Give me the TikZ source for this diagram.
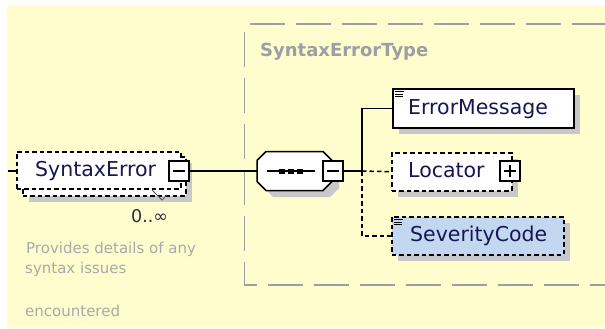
\documentclass[tikz,border=0pt]{standalone}
\usepackage{fontspec}
\setmainfont{DejaVu Sans}
\definecolor{bgyellow}{RGB}{255,252,206}
\definecolor{grpc}{RGB}{158,158,164}
\definecolor{shadowc}{RGB}{200,200,200}
\definecolor{namec}{RGB}{22,22,82}
\definecolor{descc}{RGB}{170,170,168}
\definecolor{sevblue}{RGB}{195,216,240}
\definecolor{occc}{RGB}{45,45,60}
\begin{document}
\begin{tikzpicture}[x=1pt,y=-1pt,
  elem/.style={draw=black, line width=1.5pt, fill=white, rectangle, inner sep=0pt, anchor=north west},
  optl/.style={dash pattern=on 4.5pt off 3pt},
  shadowbox/.style={fill=shadowc, draw=none, rectangle, inner sep=0pt, anchor=north west},
  nametext/.style={font=\fontsize{20.5}{24}\selectfont, text=namec, anchor=base west, inner sep=0pt},
  desctext/.style={font=\fontsize{15}{18}\selectfont, text=descc, anchor=base west, inner sep=0pt},
  grptitle/.style={font=\fontsize{18}{22}\selectfont\bfseries, text=grpc, anchor=base west, inner sep=0pt},
  occtext/.style={font=\fontsize{17.5}{21}\selectfont, text=occc, anchor=base west, inner sep=0pt},
  pmbox/.style={draw=black, line width=1.2pt, fill=white, minimum size=20pt, inner sep=0pt, rectangle},
  pmline/.style={draw=black, line width=1.2pt},
  conn/.style={draw=black, line width=1.5pt},
  grpline/.style={draw=grpc, line width=1.5pt, dash pattern=on 35pt off 11pt},
  iconline/.style={draw=black, line width=0.9pt}
]
\useasboundingbox (0,0) rectangle (605,329);
\fill[bgyellow] (7,5) rectangle (605,327);

% group frame
\draw[grpline] (250,24) -- (605,24);
\draw[grpline] (244.5,32) -- (244.5,285) -- (605,285);
\node[grptitle] (grpt) at (260,56.5) {SyntaxErrorType};

% SyntaxError element (repeated)
\node[shadowbox, minimum width=163pt, minimum height=39pt] (seshadow) at (29,163) {};
\node[elem, optl, minimum width=163pt, minimum height=39pt] (seback) at (22,156) {};
\node[elem, optl, minimum width=164pt, minimum height=37pt] (se) at (16,151) {};
\node[nametext] (setxt) at (35,176) {SyntaxError};
\node[pmbox] (seminus) at (179,171) {};
\draw[pmline] ([xshift=-6pt]seminus.center) -- ([xshift=6pt]seminus.center);
\draw[draw=black!65, line width=1pt] (152,190) -- (162,200) -- (167,195);
\node[occtext] (occ) at (131,222) {0..∞};
\node[desctext] (d1) at (26,253) {Provides details of any};
\node[desctext] (d2) at (25,273) {syntax issues};
\node[desctext] (d3) at (25,316) {encountered};
\coordinate (stub) at (8,171);

% sequence compositor
\fill[shadowc] (273,158) -- (330,158) -- (339,167) -- (339,188) -- (330,197) -- (273,197) -- (264,188) -- (264,167) -- cycle;
\draw[line width=1.5pt, fill=white] (266,151.5) -- (323,151.5) -- (332,160.5) -- (332,181.5) -- (323,190.5) -- (266,190.5) -- (257,181.5) -- (257,160.5) -- cycle;
\node[inner sep=0pt, minimum width=75pt, minimum height=39pt] (seq) at (294.5,171) {};
\draw[line width=1.3pt] (267,171) -- (315,171);
\fill (279,168.5) rectangle (285,173.5);
\fill (288,168.5) rectangle (294,173.5);
\fill (297,168.5) rectangle (303,173.5);
\node[pmbox] (seqminus) at (333,171) {};
\draw[pmline] ([xshift=-6pt]seqminus.center) -- ([xshift=6pt]seqminus.center);
\coordinate (tr) at (362,171);

% ErrorMessage
\node[shadowbox, minimum width=181pt, minimum height=39pt] (emshadow) at (399,95) {};
\node[elem, minimum width=181pt, minimum height=39pt] (em) at (392,88) {};
\node[nametext] (emtxt) at (408,114) {ErrorMessage};
\draw[iconline] (395,91.5) -- (404,91.5);
\draw[iconline] (395,94) -- (403,94);
\draw[iconline] (395,96.5) -- (403,96.5);

% Locator
\node[shadowbox, minimum width=120pt, minimum height=38pt] (locshadow) at (398,159) {};
\node[elem, optl, minimum width=120pt, minimum height=38pt] (loc) at (391,152) {};
\node[nametext] (loctxt) at (408,177) {Locator};
\node[pmbox] (locplus) at (510,171) {};
\draw[pmline] ([xshift=-6pt]locplus.center) -- ([xshift=6pt]locplus.center);
\draw[pmline] ([yshift=-6pt]locplus.center) -- ([yshift=6pt]locplus.center);

% SeverityCode
\node[shadowbox, minimum width=172pt, minimum height=38pt] (sevshadow) at (398,223) {};
\node[elem, optl, fill=sevblue, minimum width=172pt, minimum height=38pt] (sev) at (391,216) {};
\node[nametext] (sevtxt) at (410,241) {SeverityCode};
\draw[iconline] (394,219.5) -- (403,219.5);
\draw[iconline] (394,222) -- (402,222);
\draw[iconline] (394,224.5) -- (402,224.5);

% connectors
\draw[conn] (stub) -- (stub -| se.west);
\draw[conn] (seminus.east) -- (seq.west);
\draw[conn] (seqminus.east) -- (tr) |- (em.west);
\draw[conn, optl] (tr) -- (loc.west);
\draw[conn, optl] (tr) |- (sev.west);
\end{tikzpicture}
\end{document}
